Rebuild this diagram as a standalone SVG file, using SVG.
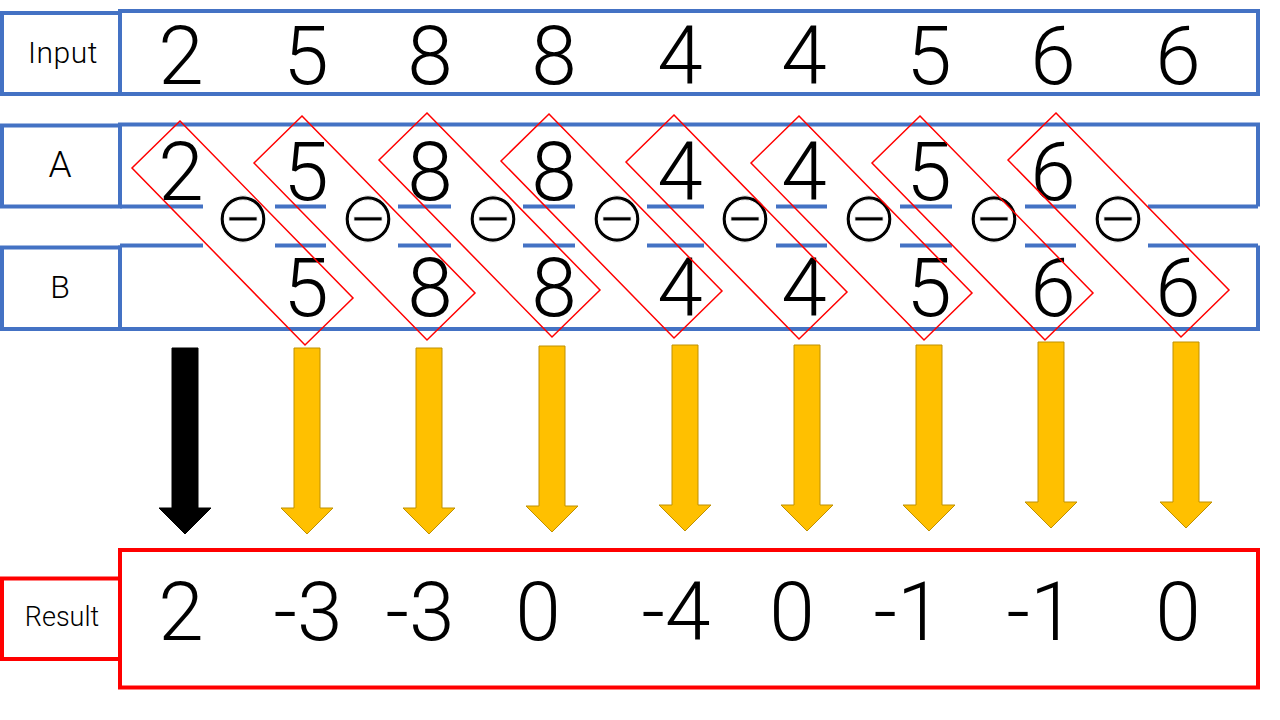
<svg xmlns="http://www.w3.org/2000/svg" xmlns:xlink="http://www.w3.org/1999/xlink" width="1280" height="720" viewBox="0 0 1280 720">
<style>
.blue{fill:none;stroke:#4472C4;stroke-width:4}
.bluel{stroke:#4472C4;stroke-width:4;fill:none}
.redbox{fill:none;stroke:#FF0000;stroke-width:4}
.pair{fill:none;stroke:#FF0000;stroke-width:1.5}
.lbl{font-family:Roboto,"Noto Sans CJK JP","Liberation Sans",sans-serif;font-weight:300;fill:#000;text-anchor:middle}
.num{font-family:Roboto,"Noto Sans CJK JP","Liberation Sans",sans-serif;font-size:82px;font-weight:300;fill:#000;text-anchor:middle}
.op{font-family:"Noto Sans CJK JP","DejaVu Sans",sans-serif;font-size:62px;fill:#000;stroke:#fff;stroke-width:1.1;text-anchor:middle}
.ya{fill:#FFC000;stroke:#BF9000;stroke-width:1}
.ba{fill:#000;stroke:#000;stroke-width:1}
</style>
<defs>
<path id="arr" d="M-13,0 H13 V160 H26 L0,186 L-26,160 H-13 Z"/>
</defs>
<rect width="1280" height="720" fill="#fff"/>

<g id="input-row">
<rect class="blue" x="2" y="13" width="118" height="81"/>
<rect class="blue" x="120" y="11" width="1138" height="83"/>
<text class="lbl" x="63" y="63" font-size="30" letter-spacing="0.5">Input</text>
<g class="num">
<text x="181" y="84">2</text><text x="306" y="84">5</text><text x="430" y="84">8</text><text x="554" y="84">8</text><text x="680" y="84">4</text><text x="804" y="84">4</text><text x="929" y="84">5</text><text x="1053" y="84">6</text><text x="1178" y="84">6</text>
</g>
</g>

<g id="a-row">
<rect class="blue" x="2" y="125.5" width="118" height="81"/>
<path class="bluel" d="M120,206.5 V124.5 H1258 V206.5"/>
<path class="bluel" d="M120,206.5 H203 M275,206.5 H326 M398,206.5 H451 M523,206.5 H575 M647,206.5 H704 M776,206.5 H827 M900,206.5 H952 M1025,206.5 H1076 M1148,206.5 H1258"/>
<text class="lbl" x="60" y="177" font-size="37">A</text>
<g class="num">
<text x="181" y="200">2</text><text x="306" y="200">5</text><text x="430" y="200">8</text><text x="554" y="200">8</text><text x="680" y="200">4</text><text x="804" y="200">4</text><text x="929" y="200">5</text><text x="1053" y="200">6</text>
</g>
</g>

<g id="b-row">
<rect class="blue" x="2" y="247.5" width="118" height="81.5"/>
<path class="bluel" d="M120,245.5 V329 H1258 V245.5"/>
<path class="bluel" d="M120,245.5 H203 M275,245.5 H326 M398,245.5 H451 M523,245.5 H575 M647,245.5 H704 M776,245.5 H827 M900,245.5 H952 M1025,245.5 H1076 M1148,245.5 H1258"/>
<text class="lbl" x="60" y="298" font-size="32">B</text>
<g class="num">
<text x="306" y="316">5</text><text x="430" y="316">8</text><text x="554" y="316">8</text><text x="680" y="316">4</text><text x="804" y="316">4</text><text x="929" y="316">5</text><text x="1053" y="316">6</text><text x="1178" y="316">6</text>
</g>
</g>

<g id="operators" class="op">
<text x="243" y="243">⊖</text><text x="368" y="243">⊖</text><text x="493" y="243">⊖</text><text x="617" y="243">⊖</text><text x="745" y="243">⊖</text><text x="869" y="243">⊖</text><text x="994" y="243">⊖</text><text x="1118" y="243">⊖</text>
</g>

<g id="pairs">
<polygon class="pair" points="180,121 353,298 305,345 132,168"/>
<polygon class="pair" points="302,116 475,293 427,340 254,163"/>
<polygon class="pair" points="427,113 600,290 552,337 379,160"/>
<polygon class="pair" points="549,114 722,291 674,338 501,161"/>
<polygon class="pair" points="674,115 847,292 799,339 626,162"/>
<polygon class="pair" points="799,116 972,293 924,340 751,163"/>
<polygon class="pair" points="920,116 1093,293 1045,340 872,163"/>
<polygon class="pair" points="1056,113 1229,290 1181,337 1008,160"/>
</g>

<g id="connectors">
<use xlink:href="#arr" class="ba" transform="translate(185,348)"/>
<use xlink:href="#arr" class="ya" transform="translate(307,348)"/>
<use xlink:href="#arr" class="ya" transform="translate(429,348)"/>
<use xlink:href="#arr" class="ya" transform="translate(552,346)"/>
<use xlink:href="#arr" class="ya" transform="translate(685,345)"/>
<use xlink:href="#arr" class="ya" transform="translate(807,345)"/>
<use xlink:href="#arr" class="ya" transform="translate(929,345)"/>
<use xlink:href="#arr" class="ya" transform="translate(1051,342)"/>
<use xlink:href="#arr" class="ya" transform="translate(1186,342)"/>
</g>

<g id="result-row">
<rect class="redbox" x="2" y="578.5" width="118" height="80.5"/>
<rect class="redbox" x="120" y="550" width="1138" height="137.5"/>
<text class="lbl" x="62" y="626" font-size="27">Result</text>
<g class="num">
<text x="181" y="640">2</text><text x="308" y="640">-3</text><text x="420" y="640">-3</text><text x="538" y="640">0</text><text x="676" y="640">-4</text><text x="792" y="640">0</text><text x="908" y="640">-1</text><text x="1041" y="640">-1</text><text x="1178" y="640">0</text>
</g>
</g>
</svg>
